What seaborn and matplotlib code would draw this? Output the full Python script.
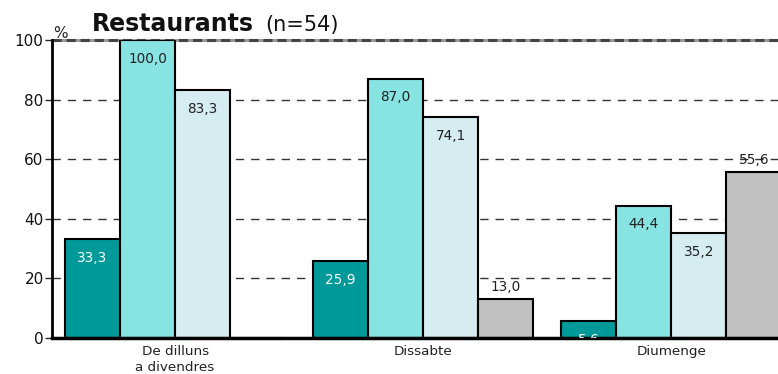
import pandas as pd
import seaborn as sns
import matplotlib.pyplot as plt

# Data
days = ['De dilluns\na divendres', 'Dissabte', 'Diumenge']
series = ['Sèrie 1', 'Sèrie 2', 'Sèrie 3', 'Sèrie 4']
values = [
    [33.3, 25.9, 5.6],
    [100.0, 87.0, 44.4],
    [83.3, 74.1, 35.2],
    [0.0, 13.0, 55.6],
]
colors = ['#009999', '#88E3E3', '#D5ECF0', '#C0C0C0']
yticks = [0, 20, 40, 60, 80, 100]

rows = []
for s, vals in zip(series, values):
    for d, v in zip(days, vals):
        rows.append({'day': d, 'series': s, 'value': v})
df = pd.DataFrame(rows)

sns.set_style('white')
plt.rcParams['font.family'] = ['DejaVu Sans']

fig = plt.figure(figsize=(7.78, 3.74), dpi=100)
ax = fig.add_axes([52 / 778, 1 - 338 / 374, 1 - 52 / 778, (338 - 40) / 374])

sns.barplot(data=df, x='day', y='value', hue='series', order=days, hue_order=series,
            palette=colors, saturation=1, width=0.887, edgecolor='black', linewidth=1.5,
            legend=False, ax=ax, zorder=3)

ax.set_ylim(0, 100)
ax.set_xlim(-0.496, 2.43)
ax.set_yticks(yticks)
ax.set_yticklabels([str(t) for t in yticks], fontsize=11, color='#111111')
for t in yticks[1:-1]:
    ax.axhline(t, color='#333333', lw=1, ls=(0, (6, 5)), zorder=1)
# top line: grey band with darker dashes
ax.axhline(100, color='#999999', lw=2.2, zorder=1, clip_on=False)
ax.axhline(100, color='#444444', lw=2.2, ls=(0, (3, 1.6)), zorder=1, clip_on=False)

# value labels
for i, cont in enumerate(ax.containers):
    for j, bar in enumerate(cont):
        v = values[i][j]
        if v == 0:
            continue
        x = bar.get_x() + bar.get_width() / 2
        txt = f'{v:.1f}'.replace('.', ',')
        if i == 3:
            t = ax.annotate(txt, (x, v), xytext=(0, 9), textcoords='offset points',
                            ha='center', va='center', fontsize=9.8, color='#222222', zorder=5)
        else:
            c = 'white' if i == 0 else '#222222'
            t = ax.annotate(txt, (x, v), xytext=(0, -13.5), textcoords='offset points',
                            ha='center', va='center', fontsize=9.8, color=c, zorder=5)
        t.set_clip_on(True)
        t.set_clip_path(ax.patch)

sns.despine(ax=ax, top=True, right=True)
ax.spines['left'].set_linewidth(2)
ax.spines['bottom'].set_linewidth(2.5)
ax.spines['left'].set_color('black')
ax.spines['bottom'].set_color('black')
ax.spines['bottom'].set_zorder(4)
ax.tick_params(axis='y', length=5, width=1, direction='out', left=True, pad=1)
ax.tick_params(axis='x', length=0, pad=5, labelsize=9.7, labelcolor='#222222')
for lab in ax.get_xticklabels():
    lab.set_linespacing(1.35)
ax.set_xlabel('')
ax.set_ylabel('')

fig.text(60 / 778, 1 - 34 / 374, '%', fontsize=11, color='#222222', ha='center', va='center')
fig.text(92 / 778, 1 - 31 / 374, 'Restaurants', fontsize=17, fontweight='bold',
         color='#111111', ha='left', va='baseline')
fig.text(265 / 778, 1 - 31 / 374, '(n=54)', fontsize=15, color='#111111',
         ha='left', va='baseline')

fig.savefig('out.png', dpi=100)
